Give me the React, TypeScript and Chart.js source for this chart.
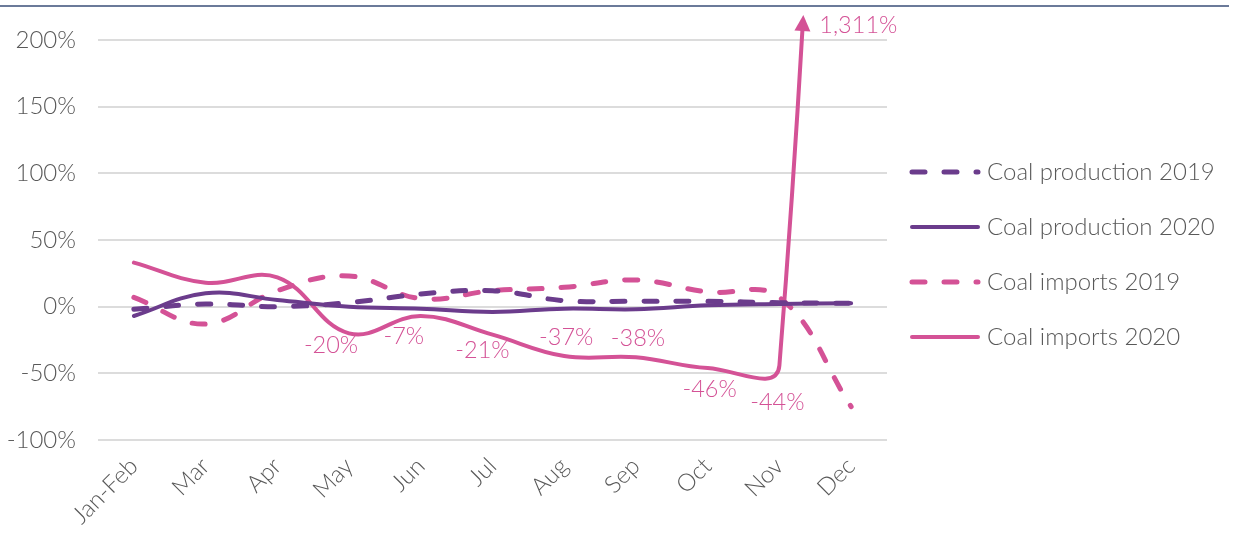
import { useEffect, useRef } from "react";
import { Chart, registerables } from "chart.js";

Chart.register(...registerables);

// Year-on-year change, % (Jan-Feb reported together)
const months = ["Jan-Feb", "Mar", "Apr", "May", "Jun", "Jul", "Aug", "Sep", "Oct", "Nov", "Dec"];
const production2019 = [-2, 2, 0, 3, 9.5, 12, 4.5, 4, 4, 3, 2.5];
const production2020 = [-7, 10, 5, 0, -1.5, -4, -1.5, -2, 1, 2, 2.5];
const imports2019 = [7, -13, 12, 23, 6, 12, 14.5, 20, 11, 7, -75];
const imports2020 = [33, 18, 22, -20, -7, -21, -37, -38, -46, -44, 1311];
// which points of the 2020 imports series carry a value label
const imports2020Labelled = [false, false, false, true, true, true, true, true, true, true, true];
const seriesNames = ["Coal production 2019", "Coal production 2020", "Coal imports 2019", "Coal imports 2020"];
const yMin = -100;
const yMax = 200;
const yStep = 50;

const PURPLE = "#6b3c8c";
const PINK = "#d45296";
const TEXT = "#595959";
const FONT = "Lato, 'Open Sans', sans-serif";
const WEIGHT = 300;
const DASH = [13, 19];

const fmtPct = (v: number) => `${v.toLocaleString("en-US")}%`;

// label offsets from each point (px), by month index
const labelOffsets: Record<number, [number, number]> = {
  3: [-18, 12],
  4: [-17, 20],
  5: [-10, 16],
  6: [2, -19],
  7: [2, -19],
  8: [2, 21],
  9: [-2, 37],
};

const overlayPlugin = {
  id: "overlay",
  beforeDraw(chart: any) {
    const ctx = chart.ctx;
    ctx.save();
    ctx.strokeStyle = "#6b7a99";
    ctx.lineWidth = 2;
    ctx.beginPath();
    ctx.moveTo(0, 6);
    ctx.lineTo(1229, 6);
    ctx.stroke();
    ctx.restore();
  },
  afterDatasetsDraw(chart: any) {
    const ctx = chart.ctx;
    const area = chart.chartArea;
    const meta = chart.getDatasetMeta(3);
    ctx.save();
    ctx.font = `${WEIGHT} 23.5px ${FONT}`;
    ctx.fillStyle = PINK;
    ctx.textAlign = "center";
    ctx.textBaseline = "middle";
    imports2020.forEach((v, i) => {
      if (!imports2020Labelled[i] || !labelOffsets[i]) return;
      const p = meta.data[i];
      const [dx, dy] = labelOffsets[i];
      ctx.fillText(fmtPct(v), p.x + dx, p.y + dy);
    });

    // arrow where the Dec spike leaves the plot
    const last = imports2020.length - 1;
    const a: any = meta.data[last - 1];
    const b: any = meta.data[last];
    const P = [
      { x: a.x, y: a.y },
      { x: a.cp2x, y: a.cp2y },
      { x: b.cp1x, y: b.cp1y },
      { x: b.x, y: b.y },
    ];
    const bez = (t: number) => {
      const u = 1 - t;
      const w = [u * u * u, 3 * u * u * t, 3 * u * t * t, t * t * t];
      return {
        x: w[0] * P[0].x + w[1] * P[1].x + w[2] * P[2].x + w[3] * P[3].x,
        y: w[0] * P[0].y + w[1] * P[1].y + w[2] * P[2].y + w[3] * P[3].y,
      };
    };
    const baseY = area.top - 9;
    let lo = 0;
    let hi = 1;
    for (let k = 0; k < 50; k++) {
      const mid = (lo + hi) / 2;
      if (bez(mid).y > baseY) lo = mid;
      else hi = mid;
    }
    const base = bez(lo);
    const ahead = bez(Math.min(1, lo + 0.001));
    let ux = ahead.x - base.x;
    let uy = ahead.y - base.y;
    const len = Math.hypot(ux, uy) || 1;
    ux /= len;
    uy /= len;
    const tip = { x: base.x + ux * 16, y: base.y + uy * 16 };
    ctx.fillStyle = PINK;
    ctx.beginPath();
    ctx.moveTo(tip.x, tip.y);
    ctx.lineTo(base.x - uy * 8, base.y + ux * 8);
    ctx.lineTo(base.x + uy * 8, base.y - ux * 8);
    ctx.closePath();
    ctx.fill();
    ctx.textAlign = "left";
    ctx.fillText(fmtPct(imports2020[last]), tip.x + 16, tip.y + 10);
    ctx.restore();
  },
  afterDraw(chart: any) {
    const ctx = chart.ctx;
    const rows = [172, 227, 282, 337];
    ctx.save();
    chart.data.datasets.forEach((ds: any, i: number) => {
      const y = rows[i];
      ctx.strokeStyle = ds.borderColor;
      ctx.lineWidth = ds.borderWidth;
      ctx.lineCap = "round";
      ctx.setLineDash(ds.borderDash || []);
      ctx.beginPath();
      ctx.moveTo(912, y);
      ctx.lineTo(978, y);
      ctx.stroke();
      ctx.setLineDash([]);
      ctx.fillStyle = TEXT;
      ctx.font = `${WEIGHT} 24px ${FONT}`;
      ctx.textAlign = "left";
      ctx.textBaseline = "middle";
      ctx.fillText(ds.label, 987, y);
    });
    ctx.restore();
  },
};

export default function App() {
  const canvasRef = useRef<HTMLCanvasElement | null>(null);

  useEffect(() => {
    document.body.style.margin = "0";
    const canvas = canvasRef.current;
    if (!canvas) return;
    const line = (label: string, data: number[], color: string, dashed: boolean, extra: any = {}) => ({
      label,
      data,
      borderColor: color,
      backgroundColor: color,
      borderWidth: dashed ? 5 : 4,
      borderDash: dashed ? DASH : [],
      borderCapStyle: "round",
      borderJoinStyle: "round",
      tension: 0.4,
      pointRadius: 0,
      pointHoverRadius: 0,
      fill: false,
      ...extra,
    });
    const chart = new Chart(canvas, {
      type: "line",
      data: {
        labels: months,
        datasets: [
          line(seriesNames[0], production2019, PURPLE, true),
          line(seriesNames[1], production2020, PURPLE, false),
          line(seriesNames[2], imports2019, PINK, true),
          line(seriesNames[3], imports2020, PINK, false, {
            clip: { left: 5, top: 12, right: 5, bottom: 5 },
          }),
        ],
      },
      options: {
        responsive: false,
        animation: false,
        events: [],
        layout: { padding: { top: 40, right: 348, bottom: 0, left: 0 } },
        plugins: {
          legend: { display: false },
          tooltip: { enabled: false },
        },
        scales: {
          x: {
            offset: true,
            grid: { display: false },
            border: { display: false },
            afterFit: (scale: any) => {
              scale.height = 93;
            },
            ticks: {
              color: TEXT,
              font: { family: FONT, size: 24, weight: WEIGHT },
              minRotation: 45,
              maxRotation: 45,
              padding: 4,
              autoSkip: false,
            },
          },
          y: {
            min: yMin,
            max: yMax,
            border: { display: false },
            grid: { color: "#dcdcdc", lineWidth: 2, drawTicks: false },
            afterFit: (scale: any) => {
              scale.width = 98;
            },
            ticks: {
              stepSize: yStep,
              color: TEXT,
              font: { family: FONT, size: 24, weight: WEIGHT },
              padding: 22,
              callback: (v: any) => fmtPct(Number(v)),
            },
          },
        },
      },
      plugins: [overlayPlugin],
    } as any);
    return () => chart.destroy();
  }, []);

  return (
    <div style={{ width: 1235, height: 533 }}>
      <canvas ref={canvasRef} width={1235} height={533} style={{ display: "block" }} />
    </div>
  );
}
